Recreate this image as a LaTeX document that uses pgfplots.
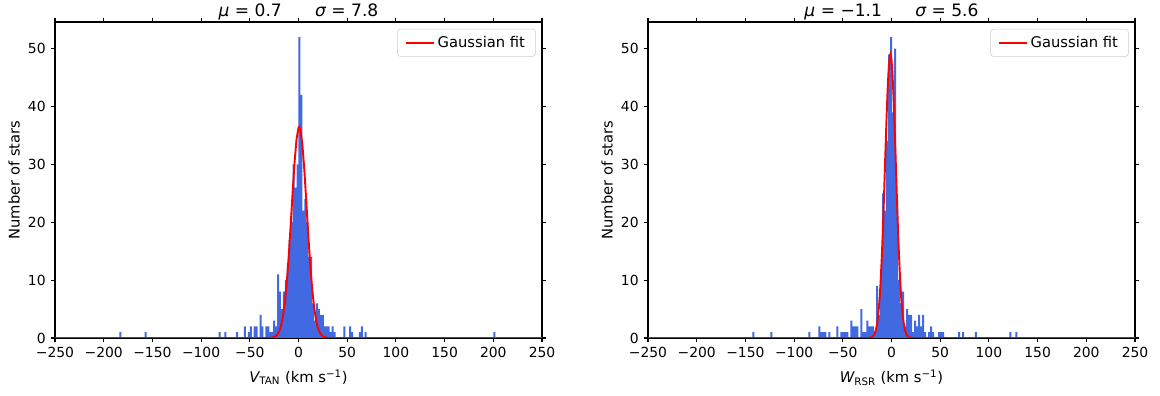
\documentclass[border=0pt]{standalone}
\usepackage{fontspec}
\setmainfont{DejaVu Sans}
\usepackage{pgfplots}
\pgfplotsset{compat=1.18}
\definecolor{histblue}{RGB}{65,105,225}
\newcommand{\tf}{\fontsize{10}{12}\selectfont}
\newcommand{\af}{\fontsize{10.6}{12.5}\selectfont}
\newcommand{\lf}{\fontsize{10.6}{12.5}\selectfont}
\newcommand{\ttf}{\fontsize{12.3}{14}\selectfont}

\pgfplotsset{
  hist/.style={
    scale only axis, width=350.64pt, height=227.52pt,
    xmin=-250, xmax=250, ymin=0, ymax=54.6,
    axis line style={line width=0.74pt},
    every tick/.style={line width=0.74pt, black},
    major tick length=3.2pt,
    tick align=outside,
    xtick={-250,-200,-150,-100,-50,0,50,100,150,200,250},
    xticklabels={−250,−200,−150,−100,−50,0,50,100,150,200,250},
    ytick={0,10,20,30,40,50},
    /pgf/number format/assume math mode=true,
    ticklabel style={font=\tf},
    every axis y label/.style={at={(axis description cs:0,0.5)}, xshift=-29.5pt, rotate=90, anchor=center, font=\af},
    every axis x label/.style={at={(axis description cs:0.5,0)}, yshift=-32.2pt, anchor=base, font=\af},
    every axis title/.style={at={(axis description cs:0.5,1)}, yshift=3.8pt, anchor=base, font=\ttf},
    legend style={at={(axis description cs:1,1)}, xshift=-4.6pt, yshift=-5pt, anchor=north east,
      draw=black!20, rounded corners=2pt, fill=white, fill opacity=0.8, text opacity=1,
      inner xsep=5.5pt, inner ysep=3pt, font=\lf},
    legend cell align=left,
    legend image code/.code={\draw[#1] (0pt,0pt) -- (20pt,0pt);},
  }
}

\begin{document}
\begin{tikzpicture}
\useasboundingbox (-39.6pt,-41.76pt) rectangle (795.6pt,243.36pt);
% ---------------- left panel ----------------
\begin{axis}[hist, at={(0pt,0pt)}, anchor=south west,
  title={{\itshape μ} = 0.7\hspace{24pt}{\itshape σ} = 7.8},
  xlabel={{\itshape V}\textsubscript{TAN} (km s\textsuperscript{−1})},
  ylabel={Number of stars}]
\addplot[ybar, bar width=2.05, bar shift=0pt, fill=histblue, draw=none, forget plot] coordinates {
(-183,1) (-157,1) (-81,1) (-75,1) (-63,1) (-55,2) (-51,1) (-49,2) (-45,2) (-43,2)
(-39,4) (-37,2) (-33,2) (-31,2) (-29,1) (-27,1) (-25,3) (-23,2) (-21,11) (-19,8)
(-17,5) (-15,8) (-13,10) (-11,13) (-9,17) (-7,20) (-5,30) (-3,26) (-1,30) (1,52)
(3,42) (5,22) (7,24) (9,20) (11,14) (13,14) (15,6) (17,3) (19,6) (21,5)
(23,4) (25,4) (27,2) (29,2) (31,2) (33,1) (35,2) (37,1) (47,2) (53,2)
(55,1) (63,1) (65,2) (69,1) (201,1)
};
\addplot[red, line width=1.38pt] coordinates {
(-250,0) (-40,0) (-32,0.005) (-30,0.016) (-28,0.042) (-26,0.104) (-24,0.243) (-22,0.53)
(-20,1.08) (-18,2.06) (-16,3.69) (-14,6.18) (-12,9.69) (-10,14.24) (-8,19.6) (-6,25.24)
(-4,30.44) (-2,34.38) (0,36.35) (0.7,36.5) (2,36.0) (4,33.38) (6,28.98) (8,23.55)
(10,17.93) (12,12.78) (14,8.53) (16,5.33) (18,3.12) (20,1.71) (22,0.88) (24,0.42)
(26,0.19) (28,0.08) (30,0.03) (34,0.002) (40,0) (250,0)
};
\addlegendentry{Gaussian fit}
\end{axis}
% ---------------- right panel ----------------
\begin{axis}[hist, at={(426.96pt,0pt)}, anchor=south west,
  title={{\itshape μ} = −1.1\hspace{24pt}{\itshape σ} = 5.6},
  xlabel={{\itshape W}\textsubscript{RSR} (km s\textsuperscript{−1})},
  ylabel={Number of stars}]
\addplot[ybar, bar width=2.05, bar shift=0pt, fill=histblue, draw=none, forget plot] coordinates {
(-141.75,1) (-123.3,1) (-84.35,1) (-74.1,2) (-72.05,1) (-70.0,1) (-67.95,1) (-63.85,1)
(-55.65,2) (-51.55,1) (-49.5,1) (-47.45,1) (-45.4,1) (-41.3,3) (-39.25,2) (-37.2,2)
(-35.15,2) (-31.05,5) (-29.0,1) (-26.95,1) (-24.9,3) (-22.85,2) (-20.8,2) (-18.75,2)
(-16.7,1) (-14.65,9) (-12.6,4) (-10.55,12) (-8.5,25) (-6.45,22) (-4.4,34) (-2.35,49)
(-0.3,52) (1.75,39) (3.8,50) (5.85,24) (7.9,10) (9.95,6) (12.0,8) (14.05,2)
(16.1,5) (18.15,4) (20.2,4) (22.25,1) (24.3,3) (26.35,2) (28.4,4) (30.45,2)
(32.5,4) (34.55,1) (38.65,1) (40.7,2) (42.75,1) (48.9,1) (50.95,1) (53.0,1)
(69.4,1) (73.5,1) (86.6,1) (122.0,1) (128.2,1)
};
\addplot[red, line width=1.38pt] coordinates {
(-250,0) (-30,0) (-25,0.005) (-23,0.023) (-21,0.089) (-20,0.165) (-19,0.30) (-18,0.52)
(-17,0.87) (-16,1.42) (-15,2.25) (-14,3.45) (-13,5.13) (-12,7.37) (-11,10.27) (-10,13.86)
(-9,18.11) (-8,22.93) (-7,28.13) (-6,33.42) (-5,38.44) (-4,42.85) (-3,46.26) (-2,48.37)
(-1.1,49.0) (0,48.06) (1,45.67) (2,42.05) (3,37.48) (4,32.37) (5,27.07) (6,21.94)
(7,17.21) (8,13.09) (9,9.64) (10,6.87) (11,4.75) (12,3.17) (13,2.06) (14,1.29)
(15,0.79) (16,0.46) (17,0.26) (18,0.146) (20,0.04) (22,0.01) (25,0) (250,0)
};
\addlegendentry{Gaussian fit}
\end{axis}
\end{tikzpicture}
\end{document}
